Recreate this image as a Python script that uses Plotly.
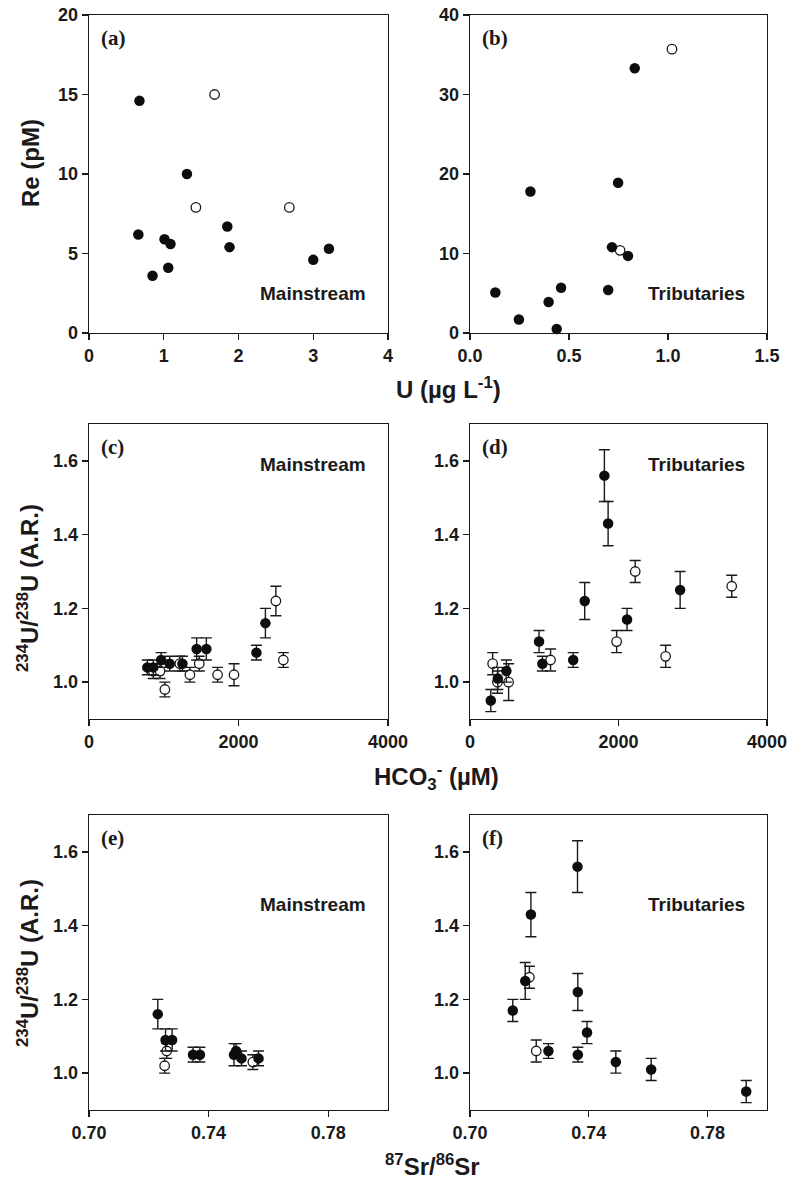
import plotly.graph_objects as go

# ---------------- data ----------------
# (a) Mainstream: U (ug/L) vs Re (pM)
a_fill_x = [0.675, 0.66, 0.85, 1.01, 1.09, 1.06, 1.31, 1.85, 1.88, 3.00, 3.21]
a_fill_y = [14.6, 6.2, 3.6, 5.9, 5.6, 4.1, 10.0, 6.7, 5.4, 4.6, 5.3]
a_open_x = [1.68, 1.43, 2.68]
a_open_y = [15.0, 7.9, 7.9]

# (b) Tributaries: U vs Re
b_fill_x = [0.128, 0.247, 0.305, 0.397, 0.438, 0.46, 0.698, 0.717, 0.748, 0.798, 0.832]
b_fill_y = [5.1, 1.7, 17.8, 3.9, 0.5, 5.7, 5.4, 10.8, 18.9, 9.7, 33.3]
b_open_x = [0.758, 1.02]
b_open_y = [10.4, 35.7]

# (c) Mainstream: HCO3- vs 234U/238U
c_fill_x = [780, 860, 965, 1080, 1250, 1440, 1570, 2240, 2360]
c_fill_y = [1.04, 1.04, 1.06, 1.05, 1.05, 1.09, 1.09, 1.08, 1.16]
c_fill_e = [0.02, 0.02, 0.02, 0.02, 0.02, 0.03, 0.03, 0.02, 0.04]
c_open_x = [860, 950, 1015, 1215, 1350, 1475, 1720, 1940, 2500, 2600]
c_open_y = [1.03, 1.03, 0.98, 1.05, 1.02, 1.05, 1.02, 1.02, 1.22, 1.06]
c_open_e = [0.02, 0.02, 0.02, 0.02, 0.02, 0.02, 0.02, 0.03, 0.04, 0.02]

# (d) Tributaries: HCO3- vs 234U/238U
d_fill_x = [280, 375, 490, 930, 975, 1390, 1545, 1810, 1860, 2115, 2830]
d_fill_y = [0.95, 1.01, 1.03, 1.11, 1.05, 1.06, 1.22, 1.56, 1.43, 1.17, 1.25]
d_fill_e = [0.03, 0.03, 0.03, 0.03, 0.02, 0.02, 0.05, 0.07, 0.06, 0.03, 0.05]
d_open_x = [305, 370, 520, 1085, 1975, 2225, 2635, 3525]
d_open_y = [1.05, 1.00, 1.00, 1.06, 1.11, 1.30, 1.07, 1.26]
d_open_e = [0.03, 0.03, 0.05, 0.03, 0.03, 0.03, 0.03, 0.03]

# (e) Mainstream: 87Sr/86Sr vs 234U/238U
e_fill_x = [0.723, 0.7256, 0.7278, 0.7348, 0.7371, 0.7485, 0.7492, 0.7510, 0.7567]
e_fill_y = [1.16, 1.09, 1.09, 1.05, 1.05, 1.05, 1.06, 1.04, 1.04]
e_fill_e = [0.04, 0.03, 0.03, 0.02, 0.02, 0.03, 0.02, 0.02, 0.02]
e_open_x = [0.7253, 0.7260, 0.7548]
e_open_y = [1.02, 1.06, 1.03]
e_open_e = [0.02, 0.02, 0.02]

# (f) Tributaries: 87Sr/86Sr vs 234U/238U
f_fill_x = [0.7144, 0.7186, 0.7205, 0.7264, 0.7362, 0.7363, 0.7363, 0.7394, 0.7491, 0.761, 0.793]
f_fill_y = [1.17, 1.25, 1.43, 1.06, 1.56, 1.22, 1.05, 1.11, 1.03, 1.01, 0.95]
f_fill_e = [0.03, 0.05, 0.06, 0.02, 0.07, 0.05, 0.02, 0.03, 0.03, 0.03, 0.03]
f_open_x = [0.72, 0.7223]
f_open_y = [1.26, 1.06]
f_open_e = [0.03, 0.03]

panel_labels = ["(a)", "(b)", "(c)", "(d)", "(e)", "(f)"]
group_labels = ["Mainstream", "Tributaries"]

# ---------------- layout helpers ----------------
W, H = 788, 1180
def fx(p):
    return p / W
def fy(p):
    return 1 - p / H

COLS = [(89, 388), (470, 767)]
ROWS = [(15, 333), (424, 719), (815, 1110)]

INK = "#1a1a1a"
fig = go.Figure()

panels = [
    (a_fill_x, a_fill_y, None, a_open_x, a_open_y, None),
    (b_fill_x, b_fill_y, None, b_open_x, b_open_y, None),
    (c_fill_x, c_fill_y, c_fill_e, c_open_x, c_open_y, c_open_e),
    (d_fill_x, d_fill_y, d_fill_e, d_open_x, d_open_y, d_open_e),
    (e_fill_x, e_fill_y, e_fill_e, e_open_x, e_open_y, e_open_e),
    (f_fill_x, f_fill_y, f_fill_e, f_open_x, f_open_y, f_open_e),
]

def err(e):
    if e is None:
        return None
    return dict(type="data", array=e, visible=True, color=INK, thickness=1.4, width=5.5)

for i, (fxv, fyv, fe, oxv, oyv, oe) in enumerate(panels):
    n = i + 1
    xa = "x" if n == 1 else f"x{n}"
    ya = "y" if n == 1 else f"y{n}"
    fig.add_trace(go.Scatter(x=oxv, y=oyv, mode="markers", xaxis=xa, yaxis=ya,
                             marker=dict(size=9.5, color="white", line=dict(color=INK, width=1.3)),
                             error_y=err(oe), showlegend=False, cliponaxis=False))
    fig.add_trace(go.Scatter(x=fxv, y=fyv, mode="markers", xaxis=xa, yaxis=ya,
                             marker=dict(size=10.5, color="#0d0d0d", line=dict(width=0)),
                             error_y=err(fe), showlegend=False, cliponaxis=False))

tickfont = dict(family="Liberation Sans", size=18, color=INK, weight="bold")
axis_common = dict(showline=True, linecolor=INK, linewidth=1.3, mirror=True, ticks="outside",
                   ticklen=6, tickwidth=1.3, tickcolor=INK, showgrid=False, zeroline=False,
                   automargin=False, ticklabeloverflow="allow", tickfont=tickfont)

x_specs = [
    dict(range=[0, 4], tickvals=[0, 1, 2, 3, 4]),
    dict(range=[0, 1.5], tickvals=[0, 0.5, 1.0, 1.5], tickformat=".1f"),
    dict(range=[0, 4000], tickvals=[0, 2000, 4000], tickformat="d"),
    dict(range=[0, 4000], tickvals=[0, 2000, 4000], tickformat="d"),
    dict(range=[0.70, 0.80], tickvals=[0.70, 0.74, 0.78], tickformat=".2f"),
    dict(range=[0.70, 0.80], tickvals=[0.70, 0.74, 0.78], tickformat=".2f"),
]
y_specs = [
    dict(range=[0, 20], tickvals=[0, 5, 10, 15, 20]),
    dict(range=[0, 40], tickvals=[0, 10, 20, 30, 40]),
    dict(range=[0.9, 1.7], tickvals=[1.0, 1.2, 1.4, 1.6], tickformat=".1f"),
    dict(range=[0.9, 1.7], tickvals=[1.0, 1.2, 1.4, 1.6], tickformat=".1f"),
    dict(range=[0.9, 1.7], tickvals=[1.0, 1.2, 1.4, 1.6], tickformat=".1f"),
    dict(range=[0.9, 1.7], tickvals=[1.0, 1.2, 1.4, 1.6], tickformat=".1f"),
]

layout = dict(width=W, height=H, margin=dict(l=0, r=0, t=0, b=0, pad=0, autoexpand=False),
              paper_bgcolor="white", plot_bgcolor="white", showlegend=False)
annotations = []
for i in range(6):
    n = i + 1
    r, c = divmod(i, 2)
    x0, x1 = COLS[c]
    y0, y1 = ROWS[r]
    xk = "xaxis" if n == 1 else f"xaxis{n}"
    yk = "yaxis" if n == 1 else f"yaxis{n}"
    ya = "y" if n == 1 else f"y{n}"
    xa = "x" if n == 1 else f"x{n}"
    layout[xk] = dict(domain=[fx(x0), fx(x1)], anchor=ya, **axis_common, **x_specs[i])
    layout[yk] = dict(domain=[fy(y1), fy(y0)], anchor=xa, **axis_common, **y_specs[i])
    # panel label
    annotations.append(dict(text=panel_labels[i], xref="paper", yref="paper",
                            x=fx(x0 + 10), y=fy(y0 + 23), xanchor="left", yanchor="middle",
                            showarrow=False,
                            font=dict(family="Liberation Serif", size=21, color=INK, weight="bold")))
    # group label
    gy = [294, 464, 904][r]
    annotations.append(dict(text=group_labels[c], xref="paper", yref="paper",
                            x=fx(x1 - 20), y=fy(gy), xanchor="right", yanchor="middle",
                            showarrow=False,
                            font=dict(family="Liberation Sans", size=19, color=INK, weight="bold")))

title_font = dict(family="Liberation Sans", size=24, color=INK, weight="bold")
titles = [
    dict(text="Re (pM)", x=fx(31), y=fy(163), textangle=-90),
    dict(text="U (µg L<sup>-1</sup>)", x=fx(449), y=fy(388)),
    dict(text="<sup>234</sup>U/<sup>238</sup>U (A.R.)", x=fx(28), y=fy(588), textangle=-90),
    dict(text="HCO<sub>3</sub><sup>-</sup> (µM)", x=fx(436), y=fy(777)),
    dict(text="<sup>234</sup>U/<sup>238</sup>U (A.R.)", x=fx(28), y=fy(963), textangle=-90),
    dict(text="<sup>87</sup>Sr/<sup>86</sup>Sr", x=fx(432), y=fy(1165)),
]
for a in titles:
    a.update(xref="paper", yref="paper", xanchor="center", yanchor="middle",
             showarrow=False, font=title_font)
layout["annotations"] = annotations + titles

fig.update_layout(**layout)
fig.write_html("out.html",
               config={"displayModeBar": False, "staticPlot": True},
               post_script="document.body.style.margin='0px';document.body.style.padding='0px';")
